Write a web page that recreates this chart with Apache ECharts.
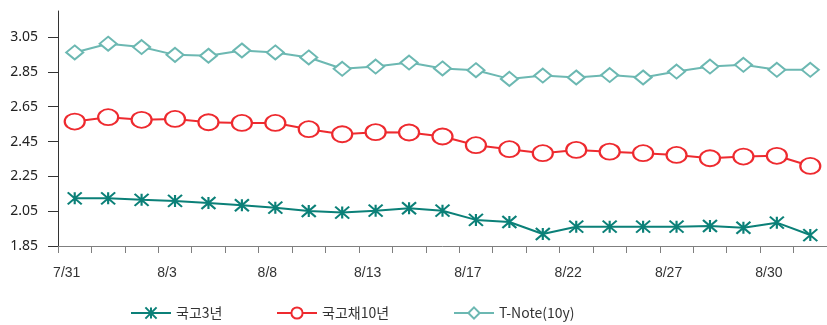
<!DOCTYPE html>
<html>
<head>
<meta charset="utf-8">
<script src="https://cdn.jsdelivr.net/npm/echarts@6/dist/echarts.min.js"></script>
<style>
html,body{margin:0;padding:0;background:#fff;}
#chart{width:827px;height:325px;}
</style>
</head>
<body>
<div id="chart"></div>
<script>
var categories = ['7/31','8/1','8/2','8/3','8/6','8/7','8/8','8/9','8/10','8/13','8/14','8/16','8/17','8/20','8/21','8/22','8/23','8/24','8/27','8/28','8/29','8/30','8/31'];
var ktb3y = [2.124,2.124,2.115,2.109,2.097,2.084,2.070,2.051,2.042,2.053,2.067,2.053,2.000,1.988,1.919,1.961,1.961,1.961,1.961,1.965,1.955,1.984,1.913];
var ktb10y = [2.565,2.590,2.575,2.580,2.561,2.557,2.557,2.521,2.492,2.504,2.502,2.479,2.429,2.406,2.383,2.402,2.392,2.383,2.373,2.354,2.364,2.368,2.310];
var tnote10y = [2.962,3.012,2.993,2.948,2.943,2.973,2.962,2.933,2.868,2.881,2.904,2.870,2.860,2.810,2.829,2.818,2.832,2.818,2.852,2.881,2.891,2.862,2.862];
var yTicks = [1.85,2.05,2.25,2.45,2.65,2.85,3.05];
var seriesNames = ['국고3년','국고채10년','T-Note(10y)'];

var c3 = '#0B8078', c10 = '#EE2A2F', cT = '#6CB8B2';
var chart = echarts.init(document.getElementById('chart'), null, {renderer:'canvas'});
var legendBase = {orient:'horizontal', top:306, padding:0, itemWidth:40, itemHeight:14, itemGap:5,
  textStyle:{fontFamily:'Noto Sans CJK KR', fontSize:14, color:'#333'}};
chart.setOption({
  animation:false,
  grid:{left:58, right:-1, top:11, bottom:79, containLabel:false},
  legend:[
    Object.assign({}, legendBase, {left:130, data:[seriesNames[0]]}),
    Object.assign({}, legendBase, {left:276, data:[seriesNames[1]]}),
    Object.assign({}, legendBase, {left:453, data:[seriesNames[2]]})
  ],
  xAxis:{
    type:'category', data:categories, boundaryGap:true,
    axisLine:{lineStyle:{color:'#7f7f7f', width:1}},
    axisTick:{show:true, interval:0, length:7, lineStyle:{color:'#7f7f7f'}},
    axisLabel:{interval:2, margin:20, padding:[0,16,0,0], fontFamily:'Liberation Sans', fontSize:14, color:'#333'},
    splitLine:{show:false}
  },
  yAxis:{
    type:'value', min:1.85, max:3.2, interval:0.2,
    axisLine:{show:true, lineStyle:{color:'#333', width:1}},
    axisTick:{show:true, length:10, lineStyle:{color:'#333'}, customValues:yTicks},
    axisLabel:{margin:20, fontFamily:'Noto Sans', fontSize:14, color:'#222', customValues:yTicks,
      formatter:function(v){return v.toFixed(2);}},
    splitLine:{show:false}
  },
  series:[
    {name:seriesNames[0], type:'line', data:ktb3y,
      symbol:'path://M0,0L12,12M0,12L12,0M6,0L6,12', symbolSize:[14,12], symbolKeepAspect:false,
      itemStyle:{color:c3, borderColor:c3, borderWidth:2},
      lineStyle:{color:c3, width:2}},
    {name:seriesNames[1], type:'line', data:ktb10y,
      symbol:'path://M0,8A10,8,0,1,1,20,8A10,8,0,1,1,0,8Z', symbolSize:[20,16], symbolKeepAspect:false,
      itemStyle:{color:'#fff', borderColor:c10, borderWidth:2},
      lineStyle:{color:c10, width:2}},
    {name:seriesNames[2], type:'line', data:tnote10y,
      symbol:'diamond', symbolSize:[17,14],
      itemStyle:{color:'#fff', borderColor:cT, borderWidth:2},
      lineStyle:{color:cT, width:2}}
  ]
});
</script>
</body>
</html>
